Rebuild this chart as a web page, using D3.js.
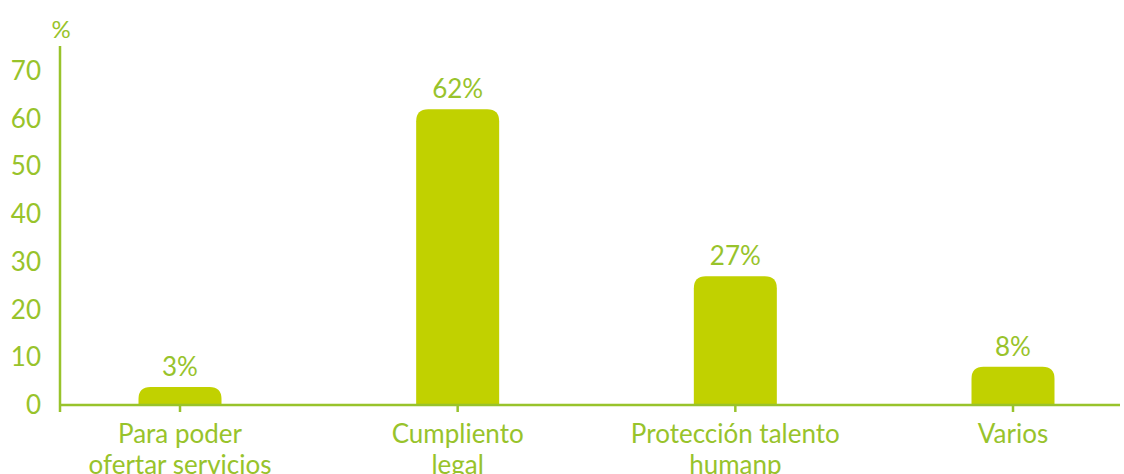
<!DOCTYPE html>
<html>
<head>
<meta charset="utf-8">
<script src="https://cdn.jsdelivr.net/npm/d3@7"></script>
<style>
  body { margin: 0; background: #fff; }
  text { font-family: Lato, "Open Sans", sans-serif; }
</style>
</head>
<body>
<div id="chart"></div>
<script>
// Data
var categories = [["Para poder", "ofertar servicios"], ["Cumpliento", "legal"], ["Protección talento", "humanp"], ["Varios"]]
var values = [3, 62, 27, 8]
var yTicks = [0, 10, 20, 30, 40, 50, 60, 70]

var width = 1124
var height = 474
var textColor = "#98c32b"
var barColor = "#c1d100"
var fontSize = 26

var svg = d3.select('#chart')
    .append('svg')
    .attr('width', width)
    .attr('height', height)

var xScale = d3.scalePoint()
    .domain(d3.range(categories.length))
    .range([180, 1013])

var yScale = d3.scaleLinear()
    .domain([0, 70])
    .range([405, 71])

var barWidth = 83

// Bars with rounded top corners
function barPath(d, i) {
    var x0 = xScale(i) - barWidth / 2
    var x1 = x0 + barWidth
    var y0 = yScale(0)
    var y1 = Math.min(yScale(d), y0 - 18)
    var r = 12
    return `M${x0},${y0} L${x0},${y1 + r} Q${x0},${y1} ${x0 + r},${y1} L${x1 - r},${y1} Q${x1},${y1} ${x1},${y1 + r} L${x1},${y0} Z`
}

svg.append('g')
    .selectAll('path')
    .data(values)
    .join('path')
    .attr('d', barPath)
    .attr('fill', barColor)

// Value labels
svg.append('g')
    .selectAll('text')
    .data(values)
    .join('text')
    .attr('x', (d, i) => xScale(i))
    .attr('y', d => Math.min(yScale(d), yScale(0) - 18) - 11)
    .attr('text-anchor', 'middle')
    .attr('font-size', fontSize)
    .attr('fill', textColor)
    .text(d => d + '%')

// Axes lines
svg.append('line')
    .attr('x1', 60).attr('x2', 60)
    .attr('y1', 46).attr('y2', 412)
    .attr('stroke', textColor).attr('stroke-width', 2.5)

svg.append('line')
    .attr('x1', 60).attr('x2', 1120)
    .attr('y1', yScale(0)).attr('y2', yScale(0))
    .attr('stroke', textColor).attr('stroke-width', 2.5)

// X ticks
svg.append('g')
    .selectAll('line')
    .data(values)
    .join('line')
    .attr('x1', (d, i) => xScale(i))
    .attr('x2', (d, i) => xScale(i))
    .attr('y1', yScale(0))
    .attr('y2', yScale(0) + 7)
    .attr('stroke', textColor).attr('stroke-width', 2.5)

// Y tick labels
svg.append('g')
    .selectAll('text')
    .data(yTicks)
    .join('text')
    .attr('x', 41)
    .attr('y', d => yScale(d) + 9)
    .attr('text-anchor', 'end')
    .attr('font-size', fontSize)
    .attr('fill', textColor)
    .text(d => d)

svg.append('text')
    .attr('x', 61)
    .attr('y', 38)
    .attr('text-anchor', 'middle')
    .attr('font-size', 24)
    .attr('fill', textColor)
    .text('%')

// Category labels
svg.append('g')
    .selectAll('text')
    .data(categories)
    .join('text')
    .attr('text-anchor', 'middle')
    .attr('font-size', fontSize)
    .attr('fill', textColor)
    .each(function (d, i) {
        d3.select(this).selectAll('tspan')
            .data(d)
            .join('tspan')
            .attr('x', xScale(i))
            .attr('y', (t, j) => 443 + j * 31)
            .text(t => t)
    })
</script>
</body>
</html>
